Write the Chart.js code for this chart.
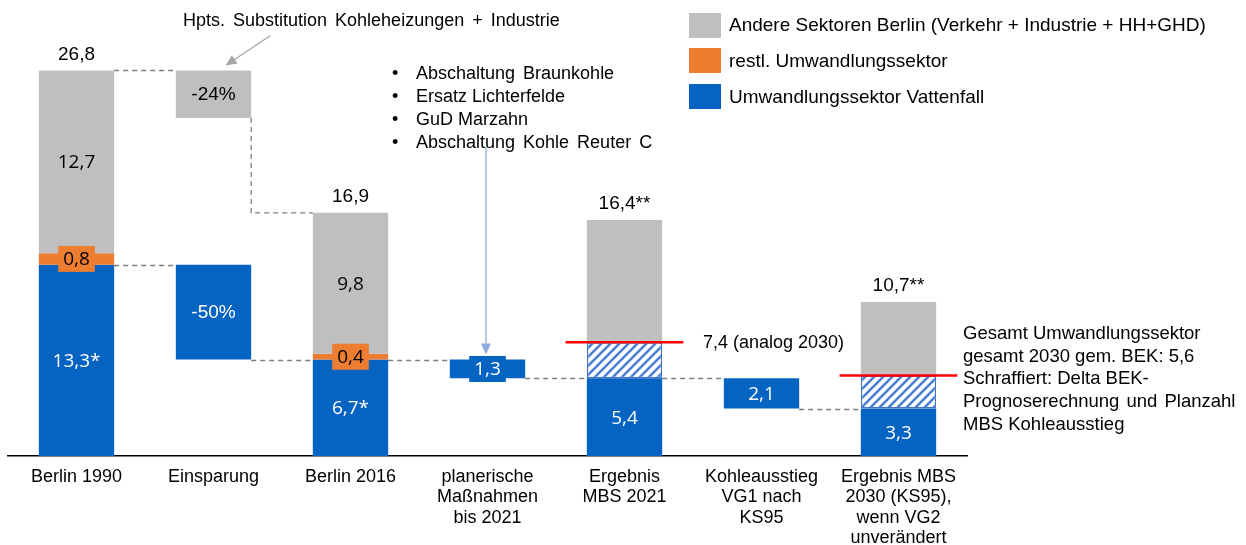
<!DOCTYPE html>
<html>
<head>
<meta charset="UTF-8">
<title>CO2 Berlin</title>
<script src="https://cdn.jsdelivr.net/npm/chart.js@4.4.0/dist/chart.umd.min.js"></script>
<style>
    body {margin: 0; background: #fff;}
    #wrap {position: relative; width: 1246px; height: 545px; overflow: hidden; font-family: "Liberation Sans", Arial, sans-serif; color: #000;}
    #wrap canvas {position: absolute; left: 0; top: 0;}
    .note {position: absolute; font-size: 18px; line-height: 23px; white-space: nowrap;}
    .lgbox {position: absolute; left: 689px; width: 32px; height: 25px;}
    .lgtxt {position: absolute; left: 729px; font-size: 19px; line-height: 24px; white-space: nowrap;}
</style>
</head>
<body>
<div id="wrap">
    <canvas id="waterfall" width="1246" height="545"></canvas>

    <!--Legende-->
    <div class="lgbox" style="top:13px;background:#bfbfbf"></div>
    <div class="lgtxt" style="top:13px">Andere Sektoren Berlin (Verkehr + Industrie + HH+GHD)</div>
    <div class="lgbox" style="top:48px;background:#ed7d31"></div>
    <div class="lgtxt" style="top:49px">restl. Umwandlungssektor</div>
    <div class="lgbox" style="top:84px;background:#0563c1"></div>
    <div class="lgtxt" style="top:85px">Umwandlungssektor Vattenfall</div>

    <!--Anmerkungen-->
    <div class="note" style="left:183px;top:9px;word-spacing:3px">Hpts. Substitution Kohleheizungen + Industrie</div>
    <div class="note" style="left:392px;top:62px;line-height:23px">
        <div>•<span style="position:absolute;left:24px;word-spacing:3px">Abschaltung Braunkohle</span></div>
        <div>•<span style="position:absolute;left:24px">Ersatz Lichterfelde</span></div>
        <div>•<span style="position:absolute;left:24px">GuD Marzahn</span></div>
        <div>•<span style="position:absolute;left:24px;word-spacing:3px">Abschaltung Kohle Reuter C</span></div>
    </div>
    <div class="note" style="left:703px;top:331px">7,4 (analog 2030)</div>
    <div class="note" style="left:963px;top:322px;line-height:22.7px;font-size:18.5px">
        Gesamt Umwandlungssektor<br>
        gesamt 2030 gem. BEK: 5,6<br>
        Schraffiert: Delta BEK-<br>
        <span style="word-spacing:2px">Prognoserechnung und Planzahl</span><br>
        MBS Kohleausstieg
    </div>
</div>

<script>
    // Kategorien
    var categories = [
        ['Berlin 1990'],
        ['Einsparung'],
        ['Berlin 2016'],
        ['planerische', 'Maßnahmen', 'bis 2021'],
        ['Ergebnis', 'MBS 2021'],
        ['Kohleausstieg', 'VG1 nach', 'KS95'],
        ['Ergebnis MBS', '2030 (KS95),', 'wenn VG2', 'unverändert']
    ];

    // Balken als [von, bis] in Mio. t
    var grayRanges   = [[14.1, 26.8], [23.5, 26.8], [7.1, 16.9], null, [7.9, 16.4], null, [5.6, 10.7]];
    var orangeRanges = [[13.3, 14.1], null, [6.7, 7.1], null, null, null, null];
    var blueRanges   = [[0, 13.3], [6.7, 13.3], [0, 6.7], [5.4, 6.7], [0, 5.4], [3.3, 5.4], [0, 3.3]];
    var hatchRanges  = [null, null, null, null, [5.4, 7.9], null, [3.3, 5.6]];

    // Beschriftungen
    var grayLabels   = ['12,7', '-24%', '9,8', null, null, null, null];
    var orangeLabels = ['0,8', null, '0,4', null, null, null, null];
    var blueLabels   = ['13,3*', '-50%', '6,7*', '1,3', '5,4', '2,1', '3,3'];
    var totalLabels  = ['26,8', null, '16,9', null, '16,4**', null, '10,7**'];

    // Zielwerte (rote Linien)
    var targets = [null, null, null, null, 7.9, null, 5.6];

    // gestrichelte Verbindungen [von Kategorie, Wert]
    var bridges = [[0, 26.8], [0, 13.3], [1, 6.7], [2, 6.7], [3, 5.4], [4, 5.4], [5, 3.3]];
    var dropBridge = [1, 23.5, 16.9]; // Einsparung grau -> Berlin 2016 oben

    var GRAY = '#bfbfbf', ORANGE = '#ed7d31', BLUE = '#0563c1';

    function hatch() {
        var c = document.createElement('canvas');
        c.width = 9; c.height = 9;
        var g = c.getContext('2d');
        g.fillStyle = '#fff';
        g.fillRect(0, 0, 9, 9);
        g.strokeStyle = '#4a7fd4';
        g.lineWidth = 2.6;
        g.beginPath();
        g.moveTo(-1, 10); g.lineTo(10, -1);
        g.moveTo(-5, 5); g.lineTo(5, -5);
        g.moveTo(4, 14); g.lineTo(14, 4);
        g.stroke();
        return g.createPattern(c, 'repeat');
    }

    function catWidth(chart) {
        return chart.chartArea.width / categories.length;
    }

    // gestrichelte Linien zwischen den Balken
    var bridgePlugin = {
        id: 'bridges',
        beforeDatasetsDraw: function (chart) {
            var ctx = chart.ctx, x = chart.scales.x, y = chart.scales.y;
            var half = catWidth(chart) * 0.55 / 2;
            ctx.save();
            ctx.strokeStyle = '#7f7f7f';
            ctx.lineWidth = 1.3;
            ctx.setLineDash([5, 4]);
            ctx.beginPath();
            bridges.forEach(function (b) {
                var py = Math.round(y.getPixelForValue(b[1])) + 0.5;
                ctx.moveTo(x.getPixelForValue(b[0]) + half, py);
                ctx.lineTo(x.getPixelForValue(b[0] + 1) - half, py);
            });
            var dx = x.getPixelForValue(dropBridge[0]) + half;
            ctx.moveTo(dx, y.getPixelForValue(dropBridge[1]));
            ctx.lineTo(dx, y.getPixelForValue(dropBridge[2]));
            ctx.lineTo(x.getPixelForValue(dropBridge[0] + 1) - half, y.getPixelForValue(dropBridge[2]));
            ctx.stroke();
            ctx.restore();
        }
    };

    // rote Linien, Pfeile, Werte
    var labelPlugin = {
        id: 'labels',
        afterDatasetsDraw: function (chart) {
            var ctx = chart.ctx, x = chart.scales.x, y = chart.scales.y;
            var cw = catWidth(chart);
            ctx.save();

            // rote Linien
            ctx.strokeStyle = '#ff0000';
            ctx.lineWidth = 2.5;
            targets.forEach(function (t, i) {
                if (t === null) return;
                var cx = x.getPixelForValue(i), py = y.getPixelForValue(t);
                ctx.beginPath();
                ctx.moveTo(cx - cw * 0.43, py);
                ctx.lineTo(cx + cw * 0.43, py);
                ctx.stroke();
            });

            // Pfeile
            function arrow(x1, y1, x2, y2, col) {
                var a = Math.atan2(y2 - y1, x2 - x1);
                ctx.strokeStyle = col;
                ctx.fillStyle = col;
                ctx.lineWidth = 1.3;
                ctx.beginPath();
                ctx.moveTo(x1, y1);
                ctx.lineTo(x2 - 9 * Math.cos(a), y2 - 9 * Math.sin(a));
                ctx.stroke();
                ctx.beginPath();
                ctx.moveTo(x2, y2);
                ctx.lineTo(x2 - 11 * Math.cos(a) + 5 * Math.sin(a), y2 - 11 * Math.sin(a) - 5 * Math.cos(a));
                ctx.lineTo(x2 - 11 * Math.cos(a) - 5 * Math.sin(a), y2 - 11 * Math.sin(a) + 5 * Math.cos(a));
                ctx.closePath();
                ctx.fill();
            }
            var gx = x.getPixelForValue(1) + 12, gy = y.getPixelForValue(26.8) - 5;
            arrow(gx + 45, gy - 30, gx, gy, '#a6a6a6');
            var bx = x.getPixelForValue(3) - 1.5, by = y.getPixelForValue(6.7) - 5;
            arrow(bx, 147, bx, by, '#8faadc');

            // Werte in den Balken
            ctx.textAlign = 'center';
            ctx.textBaseline = 'middle';
            var sets = [[0, grayLabels, '#000', GRAY], [1, orangeLabels, '#000', ORANGE], [2, blueLabels, '#fff', BLUE]];
            sets.forEach(function (s) {
                var meta = chart.getDatasetMeta(s[0]);
                s[1].forEach(function (txt, i) {
                    if (!txt) return;
                    var el = meta.data[i];
                    var cy = (el.y + el.base) / 2;
                    ctx.font = txt.indexOf('%') >= 0 ? '19px "Liberation Sans", Arial' : '19px "Open Sans", sans-serif';
                    if (Math.abs(el.base - el.y) < 24) {
                        var w = ctx.measureText(txt).width + 10;
                        ctx.fillStyle = s[3];
                        ctx.fillRect(el.x - w / 2, cy - 13, w, 26);
                    }
                    ctx.fillStyle = s[2];
                    ctx.fillText(txt, el.x, cy + 1);
                });
            });

            // Summen oben
            ctx.font = '19px "Liberation Sans", Arial';
            ctx.fillStyle = '#000';
            totalLabels.forEach(function (txt, i) {
                if (!txt) return;
                var top = Math.max(grayRanges[i] ? grayRanges[i][1] : 0, blueRanges[i][1]);
                ctx.fillText(txt, x.getPixelForValue(i), y.getPixelForValue(top) - 16);
            });
            ctx.restore();
        }
    };

    var ctx = document.getElementById('waterfall').getContext('2d');
    var chart = new Chart(ctx, {
        type: 'bar',
        data: {
            labels: categories,
            datasets: [
                {label: 'Andere Sektoren Berlin', data: grayRanges, backgroundColor: GRAY},
                {label: 'restl. Umwandlungssektor', data: orangeRanges, backgroundColor: ORANGE},
                {label: 'Umwandlungssektor Vattenfall', data: blueRanges, backgroundColor: BLUE},
                {label: 'Schraffiert', data: hatchRanges, backgroundColor: hatch(), borderColor: '#4472c4', borderWidth: 1.5}
            ]
        },
        options: {
            responsive: false,
            animation: false,
            layout: {padding: {left: 8, right: 279, top: 10, bottom: 0}},
            datasets: {bar: {grouped: false, categoryPercentage: 1, barPercentage: 0.55, borderSkipped: false}},
            plugins: {legend: {display: false}, tooltip: {enabled: false}},
            scales: {
                x: {
                    grid: {display: false, drawTicks: false},
                    border: {display: true, color: '#000', width: 1.5},
                    ticks: {color: '#000', padding: 11, font: {family: '"Liberation Sans", Arial', size: 18, lineHeight: 1.13}, maxRotation: 0, autoSkip: false},
                    afterFit: function (s) { s.height = 89; }
                },
                y: {display: false, min: 0, max: 31}
            }
        },
        plugins: [bridgePlugin, labelPlugin]
    });
</script>
</body>
</html>
